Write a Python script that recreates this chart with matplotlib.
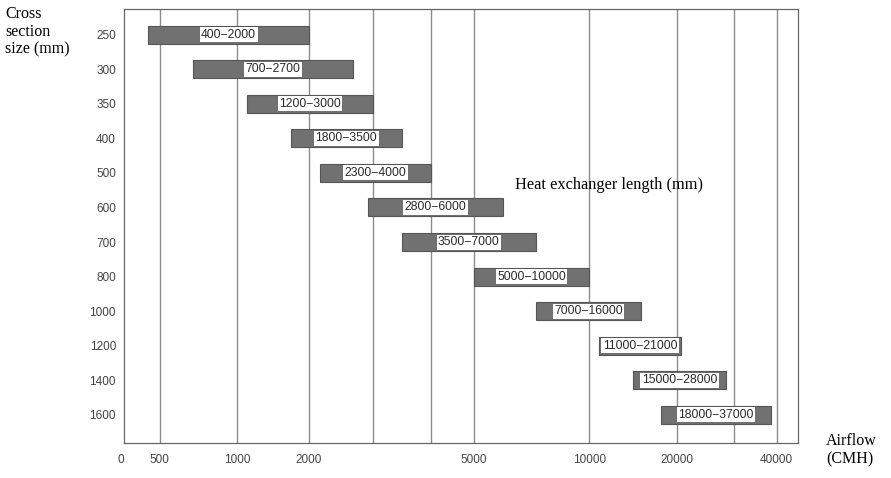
import matplotlib
matplotlib.use('Agg')
import matplotlib.pyplot as plt
import numpy as np

# cross section sizes (mm) and airflow ranges (CMH)
sizes = ['250', '300', '350', '400', '500', '600', '700', '800', '1000', '1200', '1400', '1600']
flow_min = [400, 700, 1200, 1800, 2300, 2800, 3500, 5000, 7000, 11000, 15000, 18000]
flow_max = [2000, 2700, 3000, 3500, 4000, 6000, 7000, 10000, 16000, 21000, 28000, 37000]

tick_vals = [0, 500, 1000, 2000, 5000, 10000, 20000, 40000]
grid_vals = [500, 1000, 2000, 3000, 4000, 5000, 10000, 20000, 30000, 40000]

# the airflow axis in the original is neither linear nor log: calibrate it
scale_v = np.array([0, 400, 500, 700, 1000, 1200, 1800, 2000, 2300, 2700, 2800, 3000,
                    3500, 4000, 5000, 6000, 7000, 10000, 11000, 15000, 16000, 18000,
                    20000, 21000, 28000, 30000, 37000, 40000, 44000], dtype=float)
scale_p = np.array([124.3, 148.3, 159.7, 192.7, 237, 247.3, 290.7, 309, 320, 352.7, 367.7, 373,
                    401.8, 430.5, 474, 503, 536, 589.3, 598.5, 633.3, 640.7, 660.7,
                    676.5, 681.3, 725.7, 733.7, 771.3, 776.7, 798.3])


def fwd(x):
    return np.interp(x, scale_v, scale_p)


def inv(p):
    return np.interp(p, scale_p, scale_v)


fig = plt.figure(figsize=(8.91, 4.78), dpi=100)
ax = fig.add_axes([124.3 / 891, 1 - 443.3 / 478, (798.3 - 124.3) / 891, (443.3 - 9) / 478])
ax.set_xscale('function', functions=(fwd, inv))
ax.set_xlim(0, 44000)

y = np.arange(len(sizes))
for v in grid_vals:
    ax.axvline(v, color='#8c8c8c', lw=1, zorder=1)

widths = np.array(flow_max) - np.array(flow_min)
ax.barh(y, widths, left=flow_min, height=0.52, color='#717171',
        edgecolor='#555555', linewidth=0.8, zorder=2)

for yi, lo, hi in zip(y, flow_min, flow_max):
    mid = inv((fwd(lo) + fwd(hi)) / 2)
    ax.text(mid, yi, f'{lo}\u2212{hi}', ha='center', va='center', fontsize=8.7,
            family='Liberation Sans', color='#2a2a2a', zorder=3,
            bbox=dict(boxstyle='square,pad=0.12', facecolor='white', edgecolor='none'))

ax.set_ylim(11.82, -0.74)
ax.set_yticks(y)
ax.set_yticklabels(sizes)
ax.set_xticks(tick_vals)
ax.set_xticklabels([str(v) for v in tick_vals])
ax.minorticks_off()
ax.tick_params(length=0, labelsize=8.5, labelcolor='#444444')
ax.tick_params(axis='y', pad=6)
ax.tick_params(axis='x', pad=8)
for lab in ax.get_xticklabels() + ax.get_yticklabels():
    lab.set_family('Liberation Sans')
ax.get_xticklabels()[0].set_ha('right')
for s in ax.spines.values():
    s.set_color('#666666')
    s.set_linewidth(0.9)

fig.text(5 / 891, 1 - 6 / 478, 'Cross\nsection\nsize (mm)', ha='left', va='top',
         fontsize=11.5, family='Liberation Serif', linespacing=1.15)
fig.text(515 / 891, 1 - 185 / 478, 'Heat exchanger length (mm)', ha='left', va='center',
         fontsize=11.8, family='Liberation Serif')
fig.text(826 / 891, 1 - 450 / 478, 'Airflow\n(CMH)', ha='left', va='center',
         fontsize=11.5, family='Liberation Serif', linespacing=1.15)

fig.savefig('out.png', dpi=100)
